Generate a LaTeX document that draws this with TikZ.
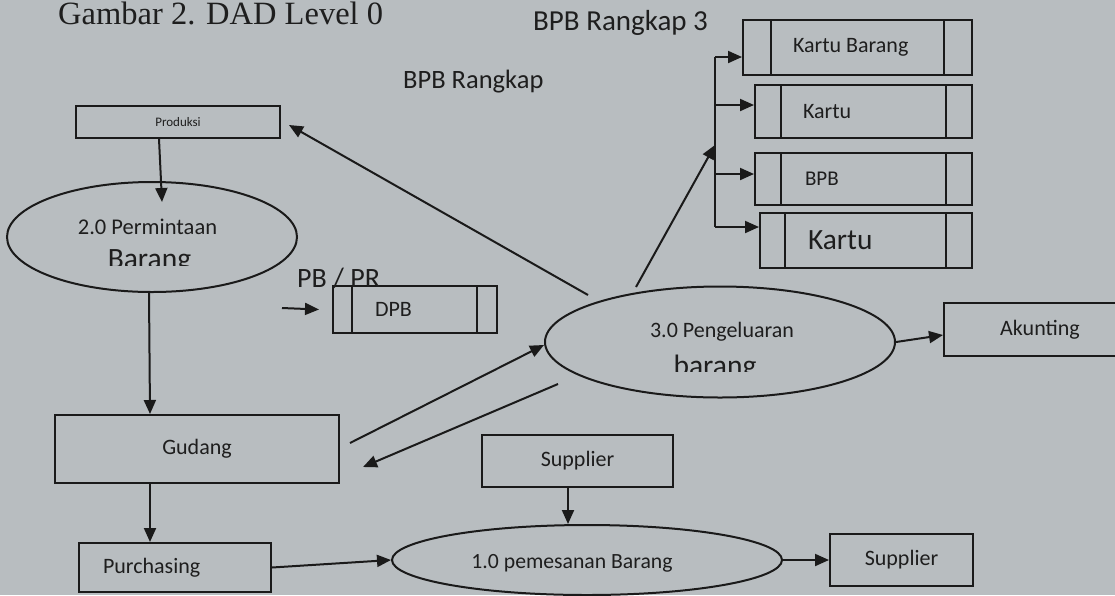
\documentclass[tikz,border=0pt]{standalone}
\usepackage{fontspec}
\setmainfont{Carlito}
\newfontfamily\titlefont{Liberation Serif}
\usetikzlibrary{arrows.meta,shapes.geometric}
\definecolor{bgc}{RGB}{184,189,192}
\definecolor{ink}{RGB}{26,26,26}
\definecolor{txt}{RGB}{30,30,30}
\newcommand\fsz[1]{\fontsize{#1}{#1}\selectfont}
\newcommand\stdiv[3]{%
  \draw[ln] ([xshift=#2pt]#1.north west) -- ([xshift=#2pt]#1.south west);
  \draw[ln] ([xshift=-#3pt]#1.north east) -- ([xshift=-#3pt]#1.south east);}
\begin{document}
\begin{tikzpicture}[x=1pt,y=-1pt,
  every node/.style={text=txt},
  ln/.style={draw=ink, line width=2pt},
  arr/.style={ln, -{Triangle[length=14pt,width=12pt]}},
  entity/.style={draw=ink, line width=2pt, rectangle, inner sep=0pt, font=\fsz{22}},
  proc/.style={draw=ink, line width=2pt, ellipse, inner sep=0pt},
  store/.style={draw=ink, line width=2pt, rectangle, inner ysep=0pt, align=flush left, font=\fsz{22}},
  lbl/.style={inner sep=0pt, font=\fsz{22}}
]
\clip (0,0) rectangle (1115,595);
\fill[bgc] (0,0) rectangle (1115,595);

% title and free labels
\node[inner sep=0pt, anchor=base west, font=\titlefont\fsz{32.5}] (title) at (58,24) {Gambar 2. DAD Level 0};
\node[lbl, anchor=west, font=\fsz{29}] (lr3) at (533,23) {BPB Rangkap 3};
\node[lbl, anchor=west, font=\fsz{26.5}] (lr) at (403,82) {BPB Rangkap};

% external entities
\node[entity, minimum width=204pt, minimum height=32pt, font=\fsz{13}] (prod) at (178,122) {Produksi};
\node[entity, minimum width=284pt, minimum height=68pt] (gud) at (197,449) {Gudang};
\node[store, text width=144pt, inner xsep=24pt, minimum height=49pt] (pur) at (175,567.5) {Purchasing};
\node[entity, minimum width=191pt, minimum height=52pt] (sup1) at (577.5,461) {Supplier};
\node[entity, minimum width=143pt, minimum height=52pt] (sup2) at (901.5,560) {Supplier};
\node[entity, minimum width=192pt, minimum height=53pt] (ak) at (1040,329.5) {Akunting};

% processes
\node[proc, minimum width=290pt, minimum height=110pt] (p2) at (152,237) {};
\node[lbl, font=\fsz{22.5}] (t2a) at (147.5,227) {2.0 Permintaan};
\begin{scope}
  \clip (90,235) rectangle (215,265);
  \node[lbl, anchor=base, font=\fsz{29.5}] (t2b) at (149.5,268) {Barang};
\end{scope}
\node[proc, minimum width=350pt, minimum height=111pt] (p3) at (720,342) {};
\node[lbl] (t3a) at (722,332) {3.0 Pengeluaran};
\begin{scope}
  \clip (650,345) rectangle (780,371);
  \node[lbl, anchor=base, font=\fsz{29.5}] (t3b) at (715,375) {barang};
\end{scope}
\node[proc, minimum width=390pt, minimum height=70pt] (p1) at (587,560) {};
\node[lbl, font=\fsz{21.7}] (t1) at (572,563) {1.0 pemesanan Barang};

% data stores
\node[store, text width=80pt, inner xsep=42pt, minimum height=47pt] (dpb) at (415,309.5) {DPB};
\stdiv{dpb}{20}{21}
\node[lbl, anchor=base west, font=\fsz{28}] (pbpr) at (297,287) {PB / PR};
\node[store, text width=129pt, inner xsep=50pt, minimum height=55pt] (kb) at (857.5,47.5) {Kartu Barang};
\stdiv{kb}{29}{29}
\node[store, text width=121pt, inner xsep=48pt, minimum height=53pt] (k1) at (863.5,111.5) {Kartu};
\stdiv{k1}{27}{27}
\node[store, text width=117pt, inner xsep=50pt, minimum height=52pt, font=\fsz{21}] (bpb) at (863.5,179) {BPB};
\stdiv{bpb}{27}{27}
\node[store, text width=116pt, inner xsep=48pt, minimum height=55pt, font=\fsz{29.4}] (k2) at (866,240.5) {Kartu};
\stdiv{k2}{26}{27}

% free connector ends
\coordinate (a1) at (588,295);
\coordinate (a2) at (636,287);
\coordinate (bj) at (715,145);
\coordinate (b1) at (715,57);
\coordinate (b2) at (715,105);
\coordinate (b3) at (715,174);
\coordinate (b4) at (715,227);
\coordinate (g1) at (350,443);
\coordinate (g2) at (558,384);
\coordinate (g3) at (363,467);
\coordinate (d1) at (282,308);

% connectors
\draw[arr] ([xshift=-19pt]prod.south) -- ([xshift=10pt,yshift=-21pt]p2.north);
\draw[arr] ([xshift=-3pt]p2.south) -- ([xshift=-47pt]gud.north);
\draw[arr] ([xshift=-47pt]gud.south) -- ([xshift=-25pt]pur.north);
\draw[arr] (pur.east) -- (p1.west);
\draw[arr] ([xshift=-9.5pt]sup1.south) -- ([xshift=-9.5pt]sup1.south |- p1.north);
\draw[arr] (p1.east) -- (sup2.west);
\draw[arr] (p3.east) -- ([yshift=-5.5pt]ak.west);
\draw[arr] (a1) -- ([xshift=8pt,yshift=-3pt]prod.east);
\draw[arr] (a2) -- (bj);
\draw[ln] (b1) -- (b4);
\draw[arr] (b1) -- (kb.west |- b1);
\draw[arr] (b2) -- (k1.west |- b2);
\draw[arr] (b3) -- (bpb.west |- b3);
\draw[arr] (b4) -- (k2.west |- b4);
\draw[arr] (g1) -- ([yshift=-3pt]p3.west);
\draw[arr] (g2) -- (g3);
\draw[arr] (d1) -- ([xshift=-13pt]dpb.west);
\end{tikzpicture}
\end{document}
